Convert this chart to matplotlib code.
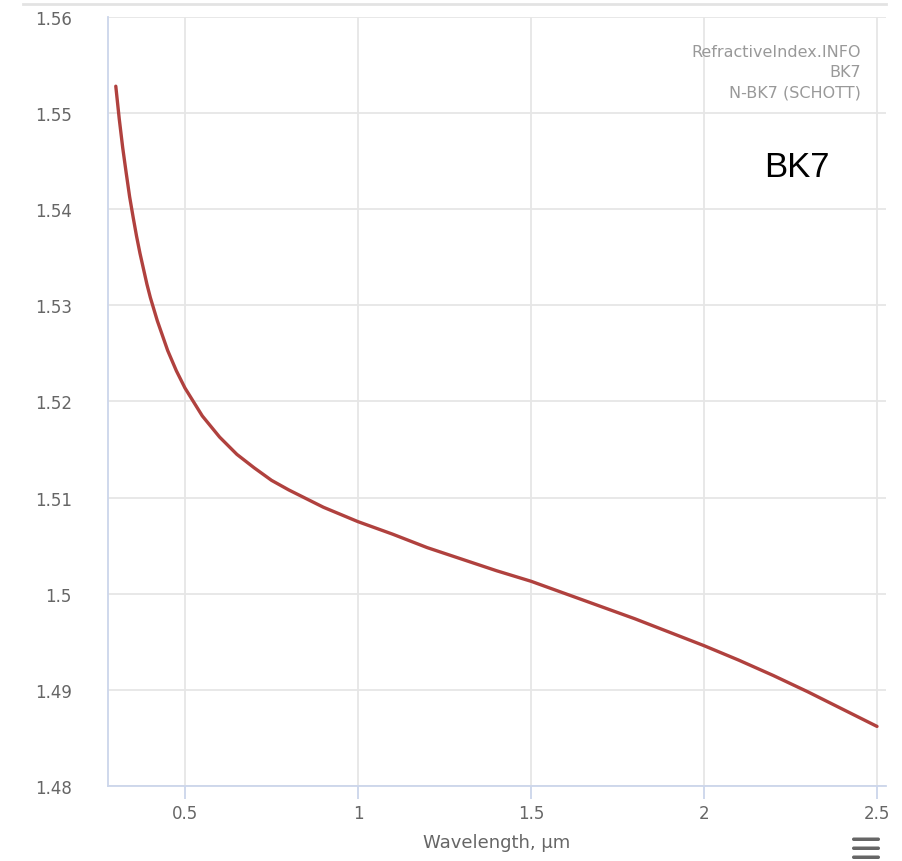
#!/usr/bin/env python3
"""Refractive index of N-BK7 (SCHOTT) vs wavelength, RefractiveIndex.INFO style."""
import matplotlib
matplotlib.use("Agg")
import matplotlib.pyplot as plt
from matplotlib.lines import Line2D
from matplotlib.patches import FancyBboxPatch

# values (denser where it bends sharply)
wavelength_um = [0.30, 0.31, 0.32, 0.33, 0.34, 0.35, 0.36, 0.37, 0.38, 0.39, 0.40,
                 0.42, 0.45, 0.475, 0.50, 0.55, 0.60, 0.65, 0.70, 0.75,
                 0.80, 0.90, 1.00, 1.10, 1.20, 1.30, 1.40, 1.50, 1.60, 1.70,
                 1.80, 1.90, 2.00, 2.10, 2.20, 2.30, 2.40, 2.50]
n_index = [1.5528, 1.5494, 1.5464, 1.5438, 1.5413, 1.5392, 1.5372, 1.5354, 1.5338,
           1.5322, 1.5308, 1.5284, 1.5253, 1.5232, 1.5214, 1.5185, 1.5163, 1.5145,
           1.5131, 1.5118, 1.5108, 1.5090, 1.5075, 1.5062, 1.5048, 1.5036, 1.5024,
           1.5013, 1.5000, 1.4987, 1.4974, 1.4960, 1.4946, 1.4931, 1.4915, 1.4898,
           1.4880, 1.4862]

x_ticks = [0.5, 1, 1.5, 2, 2.5]
x_tick_labels = ["0.5", "1", "1.5", "2", "2.5"]
y_ticks = [1.48, 1.49, 1.50, 1.51, 1.52, 1.53, 1.54, 1.55, 1.56]
y_tick_labels = ["1.48", "1.49", "1.5", "1.51", "1.52", "1.53", "1.54", "1.55", "1.56"]

W, H = 903, 862
fig = plt.figure(figsize=(W / 100, H / 100), dpi=100)
ax = fig.add_axes([108 / W, 1 - 787 / H, (886 - 108) / W, (787 - 18) / H])

ax.plot(wavelength_um, n_index, color="#b0413e", lw=2.4, solid_capstyle="round",
        solid_joinstyle="round", zorder=3)

ax.set_xlim(0.2775, 2.526)
ax.set_ylim(1.48, 1.56)
ax.set_xticks(x_ticks)
ax.set_xticklabels(x_tick_labels)
ax.set_yticks(y_ticks)
ax.set_yticklabels(y_tick_labels)
ax.grid(True, color="#e6e6e6", lw=1.3, zorder=0)
ax.set_axisbelow(True)

for s in ("top", "right"):
    ax.spines[s].set_visible(False)
for s in ("left", "bottom"):
    ax.spines[s].set_color("#ccd6eb")
    ax.spines[s].set_linewidth(1.3)
ax.tick_params(axis="x", length=9, width=1.3, color="#ccd6eb", labelcolor="#666666",
               labelsize=12, pad=4)
ax.tick_params(axis="y", length=0, labelcolor="#666666", labelsize=12, pad=26)

ax.set_xlabel("Wavelength, µm", color="#666666", fontsize=13, labelpad=8)

# source credits, top right
ax.text(0.968, 0.965, "RefractiveIndex.INFO\nBK7\nN-BK7 (SCHOTT)", transform=ax.transAxes,
        ha="right", va="top", color="#999999", fontsize=11.5, linespacing=1.45)
ax.text(0.885, 0.805, "BK7", transform=ax.transAxes, ha="center", va="center",
        color="black", fontsize=25, family="Liberation Sans")

# container border line along the top
fig.add_artist(Line2D([23 / W, 886 / W], [1 - 5 / H, 1 - 5 / H], color="#e3e3e3", lw=2))

# hamburger menu icon bottom right
for yb in (840, 849, 858):
    fig.add_artist(FancyBboxPatch((852 / W, 1 - (yb + 2) / H), 28 / W, 3.5 / H,
                                  boxstyle="round,pad=0,rounding_size=0.002",
                                  facecolor="#666666", edgecolor="none"))

fig.savefig("out.png", dpi=100)
